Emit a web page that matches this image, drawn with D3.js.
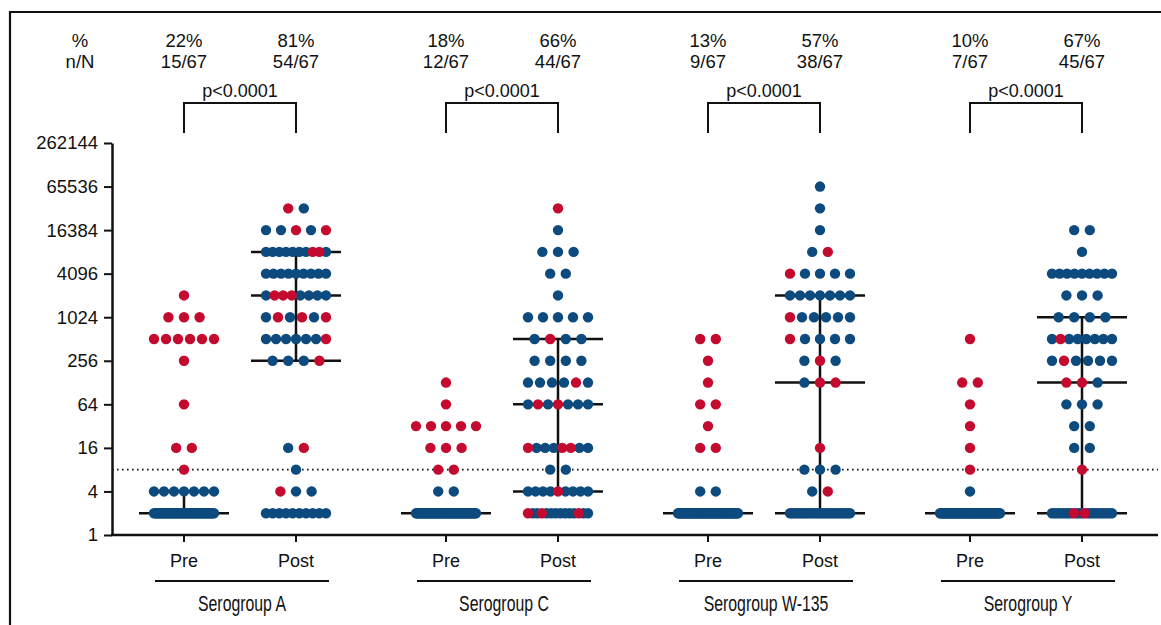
<!DOCTYPE html>
<html>
<head>
<meta charset="utf-8">
<script src="https://cdn.jsdelivr.net/npm/d3@7"></script>
<style>
  body { margin: 0; background: #fff; }
  svg text { font-family: "Liberation Sans", Arial, Helvetica, sans-serif; fill: #111; }
</style>
</head>
<body>
<div id="chart"></div>
<script>
// categories
const groups = ["Serogroup A", "Serogroup C", "Serogroup W-135", "Serogroup Y"];
const timepoints = ["Pre", "Post"];

// header numbers, one per column (Pre A, Post A, Pre C, ...)
const percents = ["22%", "81%", "18%", "66%", "13%", "57%", "10%", "67%"];
const fractions = ["15/67", "54/67", "12/67", "44/67", "9/67", "38/67", "7/67", "45/67"];
const pValues = ["p<0.0001", "p<0.0001", "p<0.0001", "p<0.0001"];

const yTicks = [1, 4, 16, 64, 256, 1024, 4096, 16384, 65536, 262144];
const threshold = 8;

// titer rows: [titer, dots left to right]  B = blue, R = red
const preA = [
  [2048, "R"], [1024, "RRR"], [512, "RRRRRR"], [256, "R"], [64, "R"], [16, "RR"], [8, "R"],
  [4, "BBBBBBB"],
  [2, "BBBBBBBBBBBBBBBBBBBBBBBBBBBBBBBBBBBBBBBBBBBBB"]
];
const postA = [
  [32768, "RB"], [16384, "BBRBR"], [8192, "BBBBBBBRRB"], [4096, "BBBBBBBBB"],
  [2048, "BRRRBBBB"], [1024, "BRBRBR"], [512, "BBBBBBR"], [256, "BBBR"],
  [16, "BR"], [8, "B"], [4, "RBB"], [2, "BBBBBBBBBB"]
];
const preC = [
  [128, "R"], [64, "R"], [32, "RRRRR"], [16, "RRR"], [8, "RR"], [4, "BB"],
  [2, "BBBBBBBBBBBBBBBBBBBBBBBBBBBBBBBBBBBBBBBBBBBBBBBBBBBBB"]
];
const postC = [
  [32768, "R"], [16384, "B"], [8192, "BBB"], [4096, "BB"], [2048, "B"], [1024, "BBBBB"],
  [512, "BRBB"], [256, "BBBB"], [128, "BBBBRB"], [64, "BRBRBBB"], [16, "RBBBRRBB"],
  [8, "BB"], [4, "BBBBRBBBB"], [2, "RBBRBBBBBBBRBB"]
];
const preW = [
  [512, "RR"], [256, "R"], [128, "R"], [64, "RR"], [32, "R"], [16, "RR"], [4, "BB"],
  [2, "BBBBBBBBBBBBBBBBBBBBBBBBBBBBBBBBBBBBBBBBBBBBBBBBBBBBBBBB"]
];
const postW = [
  [65536, "B"], [32768, "B"], [16384, "B"], [8192, "BR"], [4096, "RBBBB"], [2048, "BBBBBBB"],
  [1024, "RBBBBB"], [512, "RBBBB"], [256, "BRB"], [128, "BRR"], [16, "R"], [8, "BBB"],
  [4, "BR"], [2, "BBBBBBBBBBBBBBBBBBBBBBBBBBB"]
];
const preY = [
  [512, "R"], [128, "RR"], [64, "R"], [32, "R"], [16, "R"], [8, "R"], [4, "B"],
  [2, "BBBBBBBBBBBBBBBBBBBBBBBBBBBBBBBBBBBBBBBBBBBBBBBBBBBBBBBBBBB"]
];
const postY = [
  [16384, "BB"], [8192, "B"], [4096, "BBBBBBBBB"], [2048, "BBB"], [1024, "BBBB"],
  [512, "BRBBBBBB"], [256, "BRBBBB"], [128, "RRB"], [64, "BBB"], [32, "BB"], [16, "BB"],
  [8, "R"], [2, "BBBBBBBBRBBBRBBBBBBBBBB"]
];
const columns = [preA, postA, preC, postC, preW, postW, preY, postY];

// median / quartile bars per column
const barLines = [[2], [256, 2048, 8192], [2], [4, 64, 512], [2], [2, 128, 2048], [2], [2, 128, 1024]];
const whiskers = [[2, 4], [256, 8192], null, [4, 512], null, [2, 2048], null, [2, 1024]];

const colors = { B: "#0d4a7e", R: "#c40a2e" };

const width = 1161, height = 625;
const svg = d3.select("#chart").append("svg")
  .attr("width", width)
  .attr("height", height);

// frame
svg.append("path")
  .attr("d", "M10,630 V12 H1170")
  .attr("fill", "none")
  .attr("stroke", "#111")
  .attr("stroke-width", 2.2);

const y = d3.scaleLog().base(2)
  .domain([1, 262144])
  .range([535, 143]);

const xGroup = d3.scaleBand()
  .domain(groups)
  .range([109, 1157]);

const xInner = d3.scalePoint()
  .domain(timepoints)
  .range([-56, 56]);

const colX = i => xGroup(groups[Math.floor(i / 2)]) + xGroup.bandwidth() / 2 + xInner(timepoints[i % 2]);

// y axis
const yAxis = d3.axisLeft(y)
  .tickValues(yTicks)
  .tickFormat(d3.format("d"))
  .tickSize(8)
  .tickSizeOuter(0)
  .tickPadding(6);

const gy = svg.append("g")
  .attr("transform", "translate(112,0)")
  .call(yAxis);
gy.select(".domain").attr("stroke-width", 2.5).attr("stroke", "#111");
gy.selectAll(".tick line").attr("stroke-width", 2).attr("stroke", "#111");
gy.selectAll(".tick text")
  .style("font-family", "'Liberation Sans', Arial, sans-serif")
  .style("font-size", "18.5px")
  .attr("fill", "#111");

// x axis
svg.append("line")
  .attr("x1", 111).attr("x2", 1158)
  .attr("y1", y(1)).attr("y2", y(1))
  .attr("stroke", "#111").attr("stroke-width", 2.5);

const colIdx = d3.range(columns.length);

svg.selectAll(".xtick")
  .data(colIdx)
  .join("line")
  .attr("class", "xtick")
  .attr("x1", colX).attr("x2", colX)
  .attr("y1", y(1)).attr("y2", y(1) + 7)
  .attr("stroke", "#111").attr("stroke-width", 2);

svg.selectAll(".xlabel")
  .data(colIdx)
  .join("text")
  .attr("class", "xlabel")
  .attr("x", colX)
  .attr("y", 567)
  .attr("text-anchor", "middle")
  .style("font-size", "18px")
  .text(i => timepoints[i % 2]);

// group underline + label
const gLab = svg.selectAll(".grp")
  .data(groups)
  .join("g")
  .attr("class", "grp")
  .attr("transform", d => `translate(${xGroup(d) + xGroup.bandwidth() / 2 + 2},0)`);

gLab.append("line")
  .attr("x1", -87).attr("x2", 87)
  .attr("y1", 581).attr("y2", 581)
  .attr("stroke", "#111").attr("stroke-width", 2);

gLab.append("text")
  .attr("transform", "translate(0,611) scale(0.72,1)")
  .attr("text-anchor", "middle")
  .style("font-size", "22px")
  .text(d => d);

// threshold line
svg.append("line")
  .attr("x1", 112).attr("x2", 1158)
  .attr("y1", y(threshold)).attr("y2", y(threshold))
  .attr("stroke", "#111")
  .attr("stroke-width", 1.6)
  .attr("stroke-dasharray", "1.6,3.4");

// header text
svg.append("text").attr("x", 80).attr("y", 47).attr("text-anchor", "middle")
  .style("font-size", "18.5px").text("%");
svg.append("text").attr("x", 80).attr("y", 68).attr("text-anchor", "middle")
  .style("font-size", "18.5px").text("n/N");

svg.selectAll(".pct")
  .data(colIdx)
  .join("text")
  .attr("class", "pct")
  .attr("x", colX).attr("y", 47)
  .attr("text-anchor", "middle")
  .style("font-size", "18.5px")
  .text(i => percents[i]);

svg.selectAll(".frac")
  .data(colIdx)
  .join("text")
  .attr("class", "frac")
  .attr("x", colX).attr("y", 68)
  .attr("text-anchor", "middle")
  .style("font-size", "18.5px")
  .text(i => fractions[i]);

// p-value brackets
const brackets = svg.selectAll(".bracket")
  .data(groups)
  .join("g")
  .attr("class", "bracket");

brackets.append("path")
  .attr("d", (d, g) => {
    const x0 = colX(g * 2), x1 = colX(g * 2 + 1);
    return `M${x0},133 V103 H${x1} V133`;
  })
  .attr("fill", "none")
  .attr("stroke", "#111")
  .attr("stroke-width", 2);

brackets.append("text")
  .attr("x", (d, g) => (colX(g * 2) + colX(g * 2 + 1)) / 2)
  .attr("y", 97)
  .attr("text-anchor", "middle")
  .style("font-size", "18px")
  .text((d, g) => pValues[g]);

// median / quartile lines (drawn under the dots)
colIdx.forEach(i => {
  const cx = colX(i);
  if (whiskers[i]) {
    svg.append("line")
      .attr("x1", cx).attr("x2", cx)
      .attr("y1", y(whiskers[i][0])).attr("y2", y(whiskers[i][1]))
      .attr("stroke", "#111").attr("stroke-width", 2.5);
  }
  barLines[i].forEach(v => {
    svg.append("line")
      .attr("x1", cx - 45).attr("x2", cx + 45)
      .attr("y1", y(v)).attr("y2", y(v))
      .attr("stroke", "#111").attr("stroke-width", 2.5);
  });
});

// scatter dots, spread sideways like a column scatter
const dots = [];
columns.forEach((rows, i) => {
  const cx = colX(i);
  rows.forEach(([titer, pattern]) => {
    const n = pattern.length;
    const step = n > 1 ? Math.min(15.6, 60 / (n - 1)) : 0;
    pattern.split("").forEach((c, k) => {
      dots.push({ x: cx + (k - (n - 1) / 2) * step, titer: titer, c: c });
    });
  });
});

// blue series first, red on top
["B", "R"].forEach(c => {
  svg.append("g")
    .selectAll("circle")
    .data(dots.filter(d => d.c === c))
    .join("circle")
    .attr("cx", d => d.x)
    .attr("cy", d => y(d.titer))
    .attr("r", 5.2)
    .attr("fill", colors[c]);
});
</script>
</body>
</html>
